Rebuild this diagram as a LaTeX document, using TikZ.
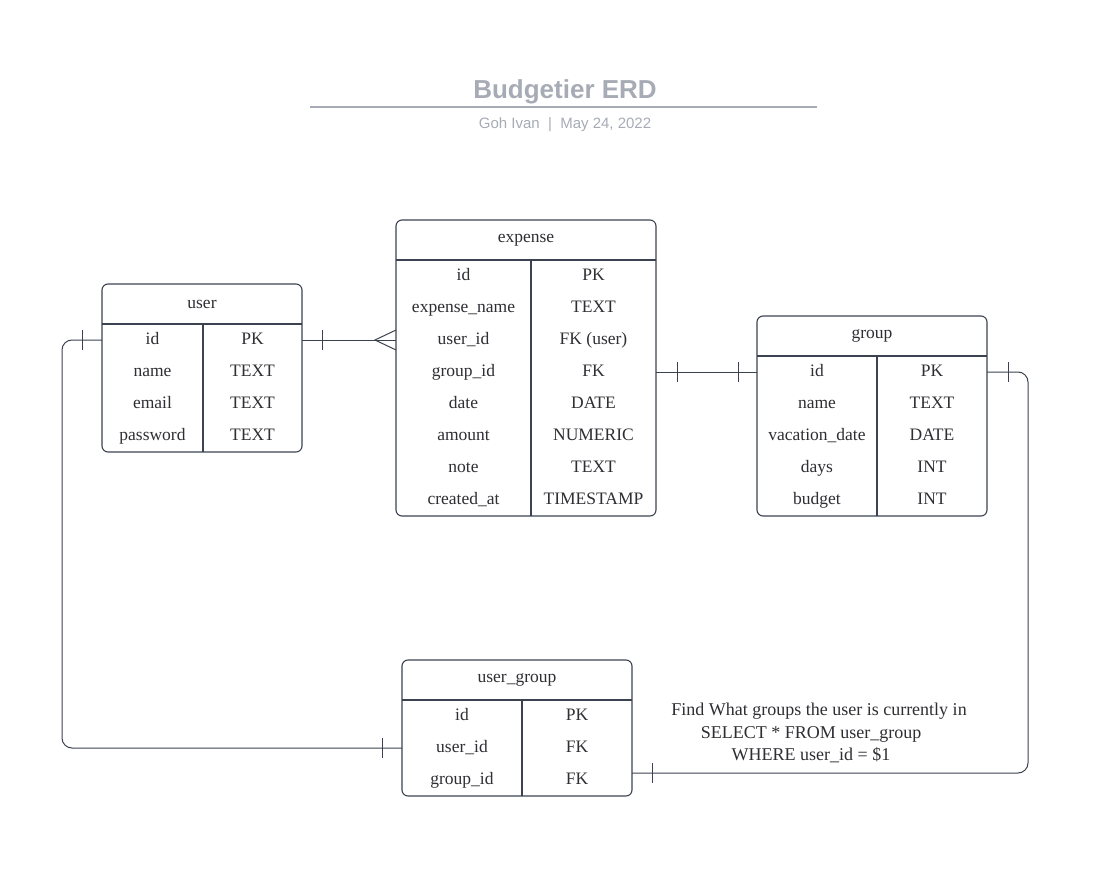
\documentclass[tikz,border=0pt]{standalone}
\usepackage{fontspec}
\setmainfont{Liberation Serif}
\newfontfamily\headfont{Liberation Sans}
\usepackage{tikz}
\usetikzlibrary{matrix, calc}

\definecolor{erline}{HTML}{3C4250}
\definecolor{ertext}{HTML}{2E2E33}
\definecolor{titlegray}{HTML}{A6ABB5}

\begin{document}
\begin{tikzpicture}[x=1pt, y=-1pt,
    tbl/.style={draw=erline, line width=1.1pt, rounded corners=6pt},
    sep/.style={draw=erline, line width=1.1pt},
    conn/.style={draw=erline, line width=1pt},
    hdr/.style={minimum height=40pt, inner sep=0pt, outer sep=0pt, text=ertext,
        font=\fontsize{17.5}{20}\selectfont},
    rows/.style={matrix of nodes, inner sep=0pt, outer sep=0pt,
        column sep=0pt, row sep=0pt, ampersand replacement=\&,
        nodes={minimum height=32pt, inner sep=0pt, outer sep=0pt, anchor=center,
            text height=12pt, text depth=4pt, text=ertext,
            font=\fontsize{17.5}{20}\selectfont}}]
    \useasboundingbox (0,0) rectangle (1104,880);

    % title block
    \node[text=titlegray, font=\headfont\bfseries\fontsize{26}{30}\selectfont] (title) at (565,92) {Budgetier ERD};
    \draw[titlegray, line width=1.6pt] (310,107) -- (817,107);
    \node[text=titlegray, font=\headfont\fontsize{15}{18}\selectfont] (byline) at (565,125) {Goh Ivan\ \ |\ \ May 24, 2022};

    % user
    \matrix[rows, anchor=north west,
        column 1/.style={nodes={minimum width=101pt}},
        column 2/.style={nodes={minimum width=99pt}}] (user) at (102,324) {
        id \& PK \\
        name \& TEXT \\
        email \& TEXT \\
        password \& TEXT \\
    };
    \node[hdr, minimum width=200pt, anchor=south west] (user-h) at (user.north west) {user};
    \draw[tbl] (user-h.north west) rectangle (user.south east);
    \draw[sep] (user-h.south west) -- (user-h.south east);
    \draw[sep] (user-1-2.north west) -- (user-4-2.south west);

    % expense
    \matrix[rows, anchor=north west,
        column 1/.style={nodes={minimum width=135pt}},
        column 2/.style={nodes={minimum width=125pt}}] (expense) at (396,260) {
        id \& PK \\
        expense\_name \& TEXT \\
        user\_id \& FK (user) \\
        group\_id \& FK \\
        date \& DATE \\
        amount \& NUMERIC \\
        note \& TEXT \\
        created\_at \& TIMESTAMP \\
    };
    \node[hdr, minimum width=260pt, anchor=south west] (expense-h) at (expense.north west) {expense};
    \draw[tbl] (expense-h.north west) rectangle (expense.south east);
    \draw[sep] (expense-h.south west) -- (expense-h.south east);
    \draw[sep] (expense-1-2.north west) -- (expense-8-2.south west);

    % group
    \matrix[rows, anchor=north west,
        column 1/.style={nodes={minimum width=120pt}},
        column 2/.style={nodes={minimum width=110pt}}] (group) at (757,356) {
        id \& PK \\
        name \& TEXT \\
        vacation\_date \& DATE \\
        days \& INT \\
        budget \& INT \\
    };
    \node[hdr, minimum width=230pt, anchor=south west] (group-h) at (group.north west) {group};
    \draw[tbl] (group-h.north west) rectangle (group.south east);
    \draw[sep] (group-h.south west) -- (group-h.south east);
    \draw[sep] (group-1-2.north west) -- (group-5-2.south west);

    % user_group
    \matrix[rows, anchor=north west,
        column 1/.style={nodes={minimum width=120pt}},
        column 2/.style={nodes={minimum width=110pt}}] (ug) at (402,700) {
        id \& PK \\
        user\_id \& FK \\
        group\_id \& FK \\
    };
    \node[hdr, minimum width=230pt, anchor=south west] (ug-h) at (ug.north west) {user\_group};
    \draw[tbl] (ug-h.north west) rectangle (ug.south east);
    \draw[sep] (ug-h.south west) -- (ug-h.south east);
    \draw[sep] (ug-1-2.north west) -- (ug-3-2.south west);

    \node[align=center, text=ertext, font=\fontsize{18}{22.5}\selectfont] (note) at (819,733)
        {Find What groups the user is currently in\\SELECT * FROM user\_group\mbox{}\kern16pt\mbox{}\\WHERE user\_id = \$1\mbox{}\kern16pt\mbox{}};

    % relations
    \draw[conn] (user-1-2.east) -- (expense-3-1.west);
    \draw[conn] ($(user-1-2.east)+(20,-10)$) -- ++(0,20);
    \draw[conn] ($(expense-3-1.west)+(0,-10)$) -- ($(expense-3-1.west)+(-21,0)$) -- ($(expense-3-1.west)+(0,10)$);

    \draw[conn] (expense-4-2.east) -- (group-1-1.west);
    \draw[conn] ($(expense-4-2.east)+(21,-10)$) -- ++(0,20);
    \draw[conn] ($(group-1-1.west)+(-19,-10)$) -- ++(0,20);

    \draw[conn, rounded corners=10pt] (user-1-1.west) -- ++(-40,0) |- (ug-2-1.west);
    \draw[conn] ($(user-1-1.west)+(-20,-10)$) -- ++(0,20);
    \draw[conn] ($(ug-2-1.west)+(-20,-10)$) -- ++(0,20);

    \draw[conn, rounded corners=10pt] (group-1-2.east) -- ++(41,0) |- ($(ug-3-2.east)+(0,-7)$);
    \draw[conn] ($(group-1-2.east)+(21,-10)$) -- ++(0,20);
    \draw[conn] ($(ug-3-2.east)+(20,-17)$) -- ++(0,20);
\end{tikzpicture}
\end{document}
